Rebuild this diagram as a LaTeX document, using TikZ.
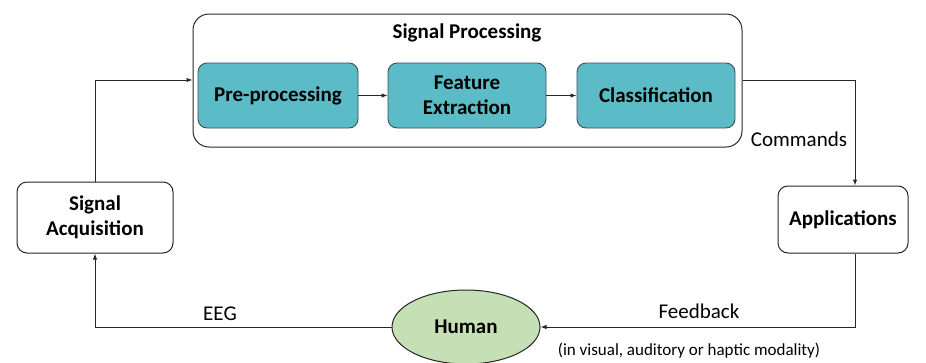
\documentclass[tikz,border=0pt]{standalone}
\usepackage{fontspec}
\setmainfont{Carlito}
\usetikzlibrary{shapes.geometric,arrows.meta}
\definecolor{tealfill}{RGB}{91,188,200}
\definecolor{tealdraw}{RGB}{60,80,85}
\definecolor{humanfill}{RGB}{197,224,180}
\tikzset{
  x=1pt,y=-1pt,
  boldfont/.style={font=\fontsize{21}{25}\selectfont\bfseries},
  whitebox/.style={draw=black!85,line width=1pt,rounded corners=10pt,fill=white,align=center,boldfont,inner sep=0pt},
  tealbox/.style={draw=tealdraw,line width=0.9pt,rounded corners=9pt,fill=tealfill,align=center,minimum width=160pt,minimum height=65pt,boldfont,inner sep=0pt},
  conn/.style={draw=black!85,line width=1pt,-{Latex[length=6pt,width=4.5pt]}},
  lbl/.style={font=\fontsize{21}{25}\selectfont},
}
\begin{document}
\begin{tikzpicture}
\useasboundingbox (0,0) rectangle (926,362);
\node[draw=black!85,line width=1pt,rounded corners=16pt,minimum width=549pt,minimum height=133pt] (sp) at (467.5,80.5) {};
\node[boldfont] (sptitle) at (467,33) {Signal Processing};
\node[tealbox] (pre) at (278,95.5) {Pre-processing};
\node[tealbox,minimum width=158pt] (fe) at (467,95.5) {Feature\\Extraction};
\node[tealbox,minimum width=158pt] (cl) at (656,95.5) {Classification};
\node[whitebox,minimum width=156pt,minimum height=71pt] (sa) at (95,217.5) {Signal\\Acquisition};
\node[whitebox,minimum width=130pt,minimum height=67pt] (app) at (843,219.5) {Applications};
\node[ellipse,draw=black!85,line width=1pt,fill=humanfill,minimum width=148pt,minimum height=74pt,boldfont,inner sep=0pt] (hum) at (466,327) {Human};
\coordinate (c1) at (95,80);
\coordinate (c2) at (855,80);
\coordinate (c3) at (855,327);
\coordinate (c4) at (95,327);
\draw[conn] (pre) -- (fe);
\draw[conn] (fe) -- (cl);
\draw[conn] (sa.north) -- (c1) -- (sp.west |- c1);
\draw[conn] (sp.east |- c2) -- (c2) -- (app.north -| c2);
\draw[conn] (app.south -| c3) -- (c3) -- (hum.east);
\draw[conn] (hum.west) -- (c4) -- (sa.south);
\node[lbl] (cmd) at (799,139) {Commands};
\node[lbl] (fb) at (699,311) {Feedback};
\node[lbl] (eeg) at (220,314) {EEG};
\node[font=\fontsize{17}{20}\selectfont] (mod) at (689,351) {(in visual, auditory or haptic modality)};
\end{tikzpicture}
\end{document}
